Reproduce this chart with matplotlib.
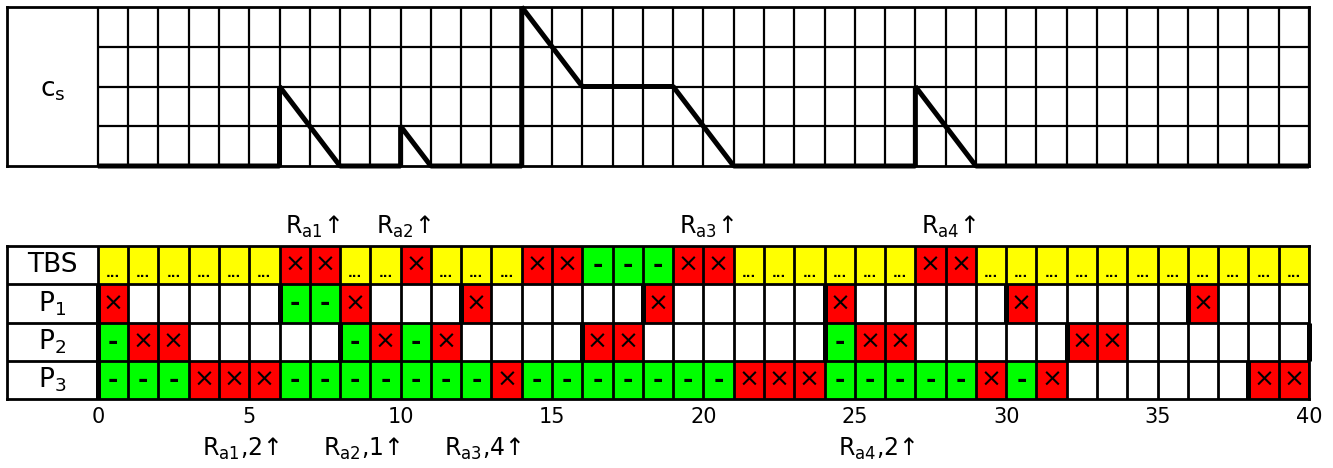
import matplotlib.pyplot as plt
from matplotlib.patches import Rectangle

# =========================
# Data
# =========================
# c_s curve, breakpoints (time, value)
cs_time = [0, 6, 6, 8, 10, 10, 11, 14, 14, 16, 19, 21, 27, 27, 29, 40]
cs_value = [0, 0, 2, 0, 0, 1, 0, 0, 4, 2, 2, 0, 0, 2, 0, 0]

row_labels = ["TBS", "P$_1$", "P$_2$", "P$_3$"]

# one letter per time slot: d = "...", x = "×", g = "-", e = empty
tbs_slots = "dddddd" + "xx" + "dd" + "x" + "ddd" + "xx" + "ggg" + "xx" + "dddddd" + "xx" + "ddddddddddd"
p1_slots = "xeeeee" + "ggxeee" + "xeeeee" + "xeeeee" + "xeeeee" + "xeeeee" + "xeee"
p2_slots = "gxxeeeee" + "gxgxeeee" + "xxeeeeee" + "gxxeeeee" + "xxeeeeee"
p3_slots = "gggxxx" + "ggggggg" + "x" + "ggggggg" + "xxx" + "ggggg" + "xgx" + "eeeeee" + "xx"

# release instants (thick bars)
tbs_releases = []
p1_releases = [0, 6, 12, 18, 24, 30, 36]
p2_releases = [0, 8, 16, 24, 32, 40]
p3_releases = [0, 38]

top_labels = [r"R$_{\mathrm{a1}}$↑", r"R$_{\mathrm{a2}}$↑", r"R$_{\mathrm{a3}}$↑", r"R$_{\mathrm{a4}}$↑"]
top_times = [8, 11, 21, 29]
bottom_labels = [r"R$_{\mathrm{a1}}$,2↑", r"R$_{\mathrm{a2}}$,1↑", r"R$_{\mathrm{a3}}$,4↑", r"R$_{\mathrm{a4}}$,2↑"]
bottom_times = [6, 10, 14, 27]

tick_values = list(range(0, 41, 5))

n_slots = 40
label_width = 3

slot_styles = {
    "d": ("#FFFF00", "..."),
    "x": ("#FF0000", "×"),
    "g": ("#00FF00", "-"),
    "e": ("white", ""),
}

# =========================
# Figure
# =========================
W, H = 1333, 468
fig = plt.figure(figsize=(W / 100, H / 100), dpi=100)


def frame_axes(top_px, bottom_px):
    ax = fig.add_axes([7 / W, 1 - bottom_px / H, (1309 - 7) / W, (bottom_px - top_px) / H])
    ax.set_xlim(-label_width, n_slots)
    ax.set_ylim(0, 4)
    for s in ax.spines.values():
        s.set_linewidth(2)
        s.set_color("black")
    ax.set_yticks([])
    return ax


# ---- top panel: c_s ----
ax1 = frame_axes(7, 166)
ax1.set_xticks([])
ax1.vlines(range(0, n_slots + 1), 0, 4, color="black", lw=1.6)
ax1.hlines([1, 2, 3], 0, n_slots, color="black", lw=1.6)
ax1.plot(cs_time, cs_value, color="black", lw=3.6, solid_joinstyle="bevel",
         solid_capstyle="butt", clip_on=False, zorder=5)
ax1.text(-label_width / 2, 1.9, r"c$_\mathrm{s}$", ha="center", va="center", fontsize=19)

# ---- bottom panel: schedule ----
ax2 = frame_axes(246, 399)
all_slots = [tbs_slots, p1_slots, p2_slots, p3_slots]
all_releases = [tbs_releases, p1_releases, p2_releases, p3_releases]

for r, (name, slots, rel) in enumerate(zip(row_labels, all_slots, all_releases)):
    y0 = 3 - r
    ax2.text(-label_width / 2, y0 + 0.5, name, ha="center", va="center", fontsize=19)
    for i, code in enumerate(slots):
        color, sym = slot_styles[code]
        ax2.add_patch(Rectangle((i, y0), 1, 1, facecolor=color, edgecolor="none", zorder=1))
        if code == "d":
            ax2.text(i + 0.5, y0 + 0.27, sym, ha="center", va="center",
                     fontsize=9, fontweight="bold", zorder=3)
        elif code == "x":
            ax2.text(i + 0.5, y0 + 0.5, sym, ha="center", va="center", fontsize=18, zorder=3)
        elif code == "g":
            ax2.text(i + 0.5, y0 + 0.5, sym, ha="center", va="center",
                     fontsize=18, fontweight="bold", zorder=3)
    ax2.vlines(rel, y0, y0 + 1, color="black", lw=3.6, zorder=4, clip_on=False)

ax2.vlines(range(0, n_slots + 1), 0, 4, color="black", lw=2, zorder=2)
ax2.hlines([1, 2, 3], -label_width, n_slots, color="black", lw=2, zorder=2)

ax2.set_xticks(tick_values)
ax2.tick_params(axis="x", length=0, labelsize=15, pad=6)

for lab, t in zip(top_labels, top_times):
    ax2.text(t, 4.5, lab, ha="right", va="center", fontsize=17)
for lab, t in zip(bottom_labels, bottom_times):
    ax2.text(t, -1.3, lab, ha="right", va="center", fontsize=17, clip_on=False)

fig.savefig("out.png", dpi=100)
